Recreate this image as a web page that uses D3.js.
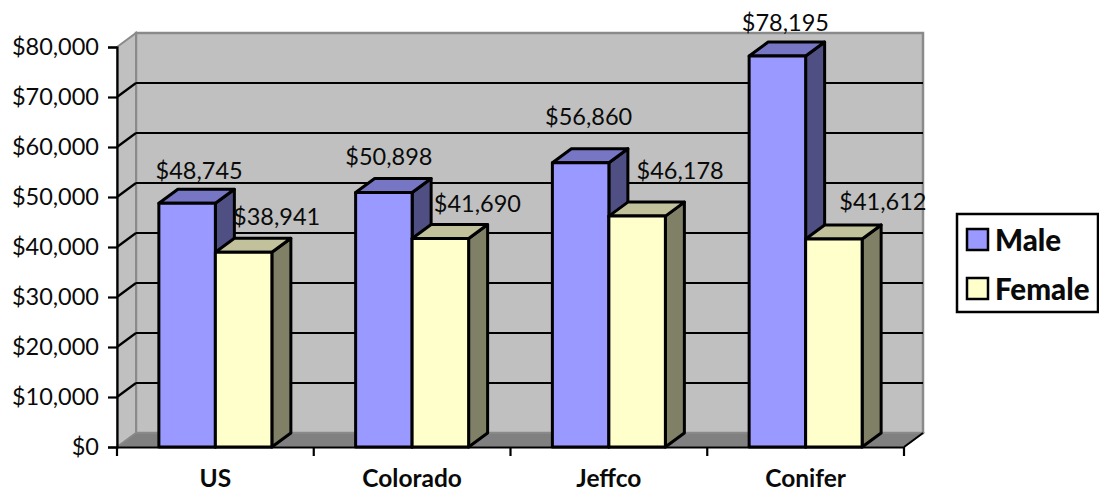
<!DOCTYPE html>
<html>
<head>
<meta charset="utf-8">
<script src="https://cdn.jsdelivr.net/npm/d3@7"></script>
<style>
  body { margin: 0; background: #fff; }
  svg { display: block; }
  text { font-family: Lato, "Open Sans", sans-serif; fill: #0a0a0a; }
</style>
</head>
<body>
<div id="chart"></div>
<script>
const categories = ["US", "Colorado", "Jeffco", "Conifer"];
const seriesNames = ["Male", "Female"];
const male = [48745, 50898, 56860, 78195];
const female = [38941, 41690, 46178, 41612];
const yTicks = [0, 10000, 20000, 30000, 40000, 50000, 60000, 70000, 80000];

// the labels were moved by hand in the original, offsets from the bar top centre
const labelShiftX = { Male: [12, 5, 8, 8], Female: [33, 37, 43, 49] };
const labelShiftY = { Male: [-24, -28, -38, -25], Female: [-27, -27, -37, -29] };

const width = 1099, height = 491;
const depthX = 19, depthY = 14;
const plotLeft = 117, plotRight = 904, plotBottom = 447, plotTop = 47;

const fills = {
  Male: { front: "#9999ff", top: "#7676c4", side: "#4f4f84" },
  Female: { front: "#ffffcc", top: "#c1c19b", side: "#808066" }
};

const svg = d3.select("#chart").append("svg")
  .attr("width", width)
  .attr("height", height);

const y = d3.scaleLinear().domain([0, 80000]).range([plotBottom, plotTop]);
const x0 = d3.scaleBand().domain(categories).range([plotLeft, plotRight])
  .paddingInner(0.4257).paddingOuter(0.2128);
const x1 = d3.scaleBand().domain(seriesNames).range([0, x0.bandwidth()]);
// the axis ticks sit between categories, not on the bars
const xAxisScale = d3.scaleBand().domain(categories).range([plotLeft, plotRight]);

const poly = pts => pts.map(p => p.join(",")).join(" ");

// walls and floor
svg.append("polygon")
  .attr("points", poly([[plotLeft + depthX, plotTop - depthY], [plotRight + depthX, plotTop - depthY], [plotRight + depthX, plotBottom - depthY], [plotLeft + depthX, plotBottom - depthY]]))
  .attr("fill", "#c0c0c0").attr("stroke", "#8a8a8a").attr("stroke-width", 2.5);
svg.append("polygon")
  .attr("points", poly([[plotLeft, plotTop], [plotLeft + depthX, plotTop - depthY], [plotLeft + depthX, plotBottom - depthY], [plotLeft, plotBottom]]))
  .attr("fill", "#c0c0c0").attr("stroke", "#8a8a8a").attr("stroke-width", 2);
svg.append("polygon")
  .attr("points", poly([[plotLeft, plotBottom], [plotLeft + depthX, plotBottom - depthY], [plotRight + depthX, plotBottom - depthY], [plotRight, plotBottom]]))
  .attr("fill", "#808080").attr("stroke", "#8a8a8a").attr("stroke-width", 1.5);
svg.append("line")
  .attr("x1", plotRight).attr("y1", plotBottom)
  .attr("x2", plotRight + depthX).attr("y2", plotBottom - depthY)
  .attr("stroke", "#000").attr("stroke-width", 2);

// gridlines on back wall and side wall
const gridTicks = yTicks.filter(d => d > 0 && d < 80000);
svg.selectAll(".grid").data(gridTicks).join("line")
  .attr("class", "grid")
  .attr("x1", plotLeft + depthX).attr("x2", plotRight + depthX)
  .attr("y1", d => y(d) - depthY).attr("y2", d => y(d) - depthY)
  .attr("stroke", "#000").attr("stroke-width", 2.2);
svg.selectAll(".gridSide").data(gridTicks).join("line")
  .attr("class", "gridSide")
  .attr("x1", plotLeft).attr("x2", plotLeft + depthX)
  .attr("y1", d => y(d)).attr("y2", d => y(d) - depthY)
  .attr("stroke", "#000").attr("stroke-width", 2.2);

// axes
const yAxis = d3.axisLeft(y).tickValues(yTicks).tickSize(9).tickPadding(9)
  .tickFormat(d => "$" + d3.format(",")(d));
const xAxis = d3.axisBottom(xAxisScale).tickSize(9).tickSizeOuter(0).tickPadding(14);

const gy = svg.append("g").attr("transform", `translate(${plotLeft},0)`).call(yAxis);
gy.selectAll("text").style("font-size", "23.5px").style("font-family", "Lato").attr("fill", "#0a0a0a");
gy.selectAll("line").attr("stroke", "#000").attr("stroke-width", 2.2);
gy.select(".domain").attr("stroke", "#000").attr("stroke-width", 2.2);

const gx = svg.append("g").attr("transform", `translate(0,${plotBottom})`).call(xAxis);
gx.selectAll("text").style("font-size", "24.5px").style("font-family", "Lato").style("font-weight", "bold").attr("fill", "#0a0a0a");
gx.selectAll("line").remove();
gx.select(".domain").attr("stroke", "#000").attr("stroke-width", 2.2);
gx.selectAll(".sep").data([plotLeft, ...categories.map(c => xAxisScale(c) + xAxisScale.bandwidth())]).join("line")
  .attr("class", "sep")
  .attr("x1", d => d).attr("x2", d => d)
  .attr("y1", 0).attr("y2", 9)
  .attr("stroke", "#000").attr("stroke-width", 2.2);

// bars
const rows = categories.flatMap((c, i) => [
  { cat: c, i, series: "Male", value: male[i] },
  { cat: c, i, series: "Female", value: female[i] }
]);

const bar = svg.selectAll(".bar").data(rows).join("g")
  .attr("class", "bar")
  .attr("stroke", "#000").attr("stroke-width", 3).attr("stroke-linejoin", "round");

bar.each(function(d) {
  const g = d3.select(this);
  const xa = x0(d.cat) + x1(d.series);
  const xb = xa + x1.bandwidth();
  const yt = y(d.value);
  g.append("polygon")
    .attr("points", poly([[xb, yt], [xb + depthX, yt - depthY], [xb + depthX, plotBottom - depthY], [xb, plotBottom]]))
    .attr("fill", fills[d.series].side);
  g.append("polygon")
    .attr("points", poly([[xa, yt], [xa + depthX, yt - depthY], [xb + depthX, yt - depthY], [xb, yt]]))
    .attr("fill", fills[d.series].top);
  g.append("rect")
    .attr("x", xa).attr("y", yt)
    .attr("width", xb - xa).attr("height", plotBottom - yt)
    .attr("fill", fills[d.series].front);
});

// data labels
svg.selectAll(".label").data(rows).join("text")
  .attr("class", "label")
  .attr("x", d => x0(d.cat) + x1(d.series) + x1.bandwidth() / 2 + labelShiftX[d.series][d.i])
  .attr("y", d => y(d.value) + labelShiftY[d.series][d.i])
  .attr("text-anchor", "middle")
  .style("font-size", "23.5px")
  .text(d => "$" + d3.format(",")(d.value));

// legend
const legend = svg.append("g");
legend.append("rect")
  .attr("x", 957).attr("y", 214).attr("width", 141).attr("height", 98)
  .attr("fill", "#fff").attr("stroke", "#000").attr("stroke-width", 2.5);
const legendRow = d3.scalePoint().domain(seriesNames).range([240, 289]);
legend.selectAll(".key").data(seriesNames).join("rect")
  .attr("class", "key")
  .attr("x", 967).attr("y", d => legendRow(d) - 11)
  .attr("width", 21).attr("height", 21)
  .attr("fill", d => fills[d].front)
  .attr("stroke", "#000").attr("stroke-width", 2.5);
legend.selectAll(".name").data(seriesNames).join("text")
  .attr("class", "name")
  .attr("x", 995).attr("y", d => legendRow(d) + 11)
  .style("font-size", "29.5px").style("font-weight", "900")
  .text(d => d);
</script>
</body>
</html>
